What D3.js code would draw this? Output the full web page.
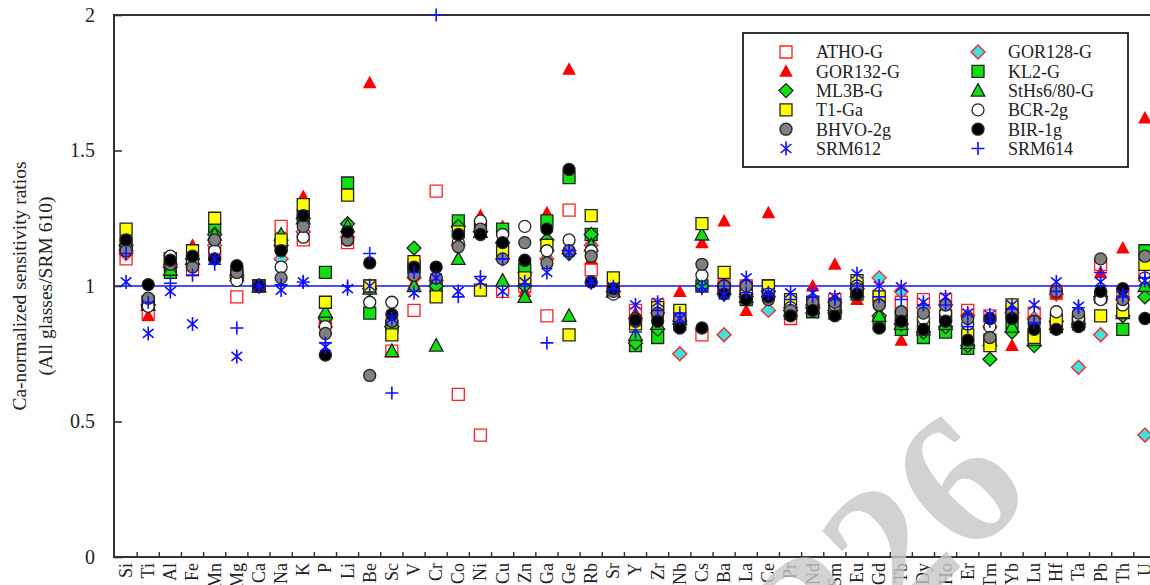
<!DOCTYPE html>
<html><head><meta charset="utf-8">
<script src="https://cdn.jsdelivr.net/npm/d3@7"></script>
<style>
body{margin:0;background:#fff}
svg{display:block}
text{font-family:"Liberation Serif","Times New Roman",serif;fill:#222}
</style>
</head><body>
<svg id="chart" width="1150" height="585"></svg>
<script>
// Elements on the x axis
const elements = ["Si","Ti","Al","Fe","Mn","Mg","Ca","Na","K","P","Li","Be","Sc","V","Cr","Co","Ni","Cu","Zn","Ga","Ge","Rb","Sr","Y","Zr","Nb","Cs","Ba","La","Ce","Pr","Nd","Sm","Eu","Gd","Tb","Dy","Ho","Er","Tm","Yb","Lu","Hf","Ta","Pb","Th","U"];

// Ca-normalized sensitivity ratios (glass / SRM 610), one value per element
const athoG   = [1.10,0.90,1.10,1.06,1.12,0.96,1.00,1.22,1.17,0.87,1.16,1.00,0.76,0.91,1.35,0.60,0.45,0.98,1.00,0.89,1.28,1.06,0.98,0.91,0.93,0.88,0.82,1.00,1.00,0.97,0.88,0.91,0.95,0.99,0.96,0.94,0.95,0.95,0.91,0.89,0.90,0.90,0.98,0.88,1.08,0.97,1.04];
const gor128G = [1.12,0.93,1.08,1.08,1.15,1.03,1.00,1.10,1.20,0.85,1.18,1.00,0.85,1.03,1.02,1.15,1.20,1.10,1.05,1.10,1.13,1.15,1.00,0.88,0.90,0.75,1.00,0.82,0.97,0.91,0.92,0.93,0.94,0.99,1.03,0.98,0.92,0.93,0.89,0.85,0.90,0.88,0.97,0.70,0.82,0.95,0.45];
const gor132G = [1.13,0.89,1.08,1.15,1.18,1.04,1.00,1.16,1.33,0.88,1.20,1.75,0.76,1.01,1.00,1.18,1.26,1.22,0.98,1.27,1.80,1.10,0.99,0.90,0.92,0.98,1.16,1.24,0.91,1.27,0.90,1.00,1.08,0.95,0.90,0.80,0.90,0.90,0.88,0.86,0.78,0.86,0.97,0.88,1.05,1.14,1.62];
const kl2G    = [1.16,0.94,1.05,1.09,1.21,1.04,1.00,1.15,1.26,1.05,1.38,0.90,0.85,1.07,1.00,1.24,1.22,1.21,1.06,1.24,1.40,1.19,0.98,0.78,0.81,0.86,1.00,0.99,0.95,1.00,0.90,0.905,0.90,0.97,0.86,0.84,0.81,0.83,0.77,0.80,0.86,0.82,0.85,0.86,0.96,0.84,1.13];
const ml3bG   = [1.15,0.93,1.07,1.10,1.19,1.04,1.00,1.15,1.25,0.88,1.23,0.99,0.85,1.14,1.00,1.22,1.20,1.16,1.00,1.17,1.12,1.19,0.98,0.79,0.84,0.87,1.00,1.00,0.96,0.98,0.91,0.92,0.91,0.99,0.89,0.86,0.83,0.85,0.78,0.73,0.83,0.78,0.87,0.86,0.96,0.89,0.96];
const sths680G= [1.15,0.93,1.06,1.10,1.19,1.04,1.00,1.19,1.25,0.905,1.22,0.99,0.76,1.00,0.78,1.10,1.20,1.02,0.96,1.15,0.89,1.15,0.98,0.82,0.86,0.88,1.19,0.99,0.96,0.98,0.91,0.92,0.92,0.98,0.89,0.86,0.84,0.86,0.79,0.80,0.85,0.80,0.86,0.87,0.97,0.90,1.00];
const t1Ga    = [1.21,0.94,1.10,1.13,1.25,1.05,1.00,1.17,1.30,0.94,1.335,1.00,0.82,1.09,0.96,1.20,0.985,1.13,1.03,1.15,0.82,1.26,1.03,0.86,0.92,0.91,1.23,1.05,0.99,1.00,0.95,0.94,0.93,1.02,0.96,0.89,0.86,0.89,0.82,0.78,0.93,0.81,0.875,0.87,0.89,0.905,1.08];
const bcr2g   = [1.14,0.925,1.11,1.09,1.13,1.02,1.00,1.07,1.18,0.85,1.17,0.94,0.94,1.06,1.03,1.16,1.24,1.19,1.22,1.13,1.17,1.13,0.97,0.88,0.89,0.87,1.04,1.00,0.98,0.97,0.92,0.93,0.93,1.00,0.93,0.90,0.88,0.90,0.86,0.85,0.89,0.86,0.905,0.88,0.95,0.93,1.03];
const bhvo2g  = [1.13,0.955,1.08,1.07,1.17,1.05,1.00,1.03,1.22,0.825,1.17,0.67,0.87,1.04,1.03,1.145,1.21,1.10,1.16,1.085,1.13,1.11,0.98,0.87,0.90,0.88,1.08,1.00,1.00,0.95,0.91,0.94,0.94,0.99,0.93,0.905,0.90,0.93,0.88,0.81,0.90,0.87,0.98,0.90,1.10,0.95,1.11];
const bir1g   = [1.17,1.005,1.095,1.11,1.10,1.075,1.00,1.13,1.26,0.745,1.20,1.085,0.895,1.07,1.07,1.19,1.19,1.16,1.095,1.21,1.43,1.015,0.99,0.875,0.87,0.845,0.845,0.97,0.95,0.96,0.89,0.91,0.89,0.97,0.845,0.87,0.84,0.87,0.80,0.88,0.88,0.84,0.84,0.85,0.98,0.99,0.88];
const srm612  = [1.015,0.825,0.98,0.86,1.10,0.74,1.00,0.985,1.015,0.775,0.99,1.00,0.88,0.975,1.03,0.98,1.015,0.98,1.015,1.05,1.125,1.015,0.997,0.93,0.94,0.88,0.997,0.967,1.03,0.975,0.975,0.975,0.96,1.045,1.00,0.997,0.94,0.96,0.90,0.893,0.93,0.93,1.015,0.925,1.015,0.97,1.02];
const srm614  = [1.12,0.94,1.01,1.04,1.08,0.845,1.00,1.004,1.015,0.79,1.00,1.12,0.605,1.05,2.00,0.96,1.035,1.10,1.00,0.79,1.13,1.01,0.99,0.83,0.91,0.90,0.99,1.00,0.975,0.97,0.95,0.96,0.95,1.00,0.96,0.95,0.93,0.93,0.85,0.87,0.915,0.865,0.98,0.92,1.05,0.96,1.03];

const yTicks = [0, 0.5, 1, 1.5, 2];
const watermark = "226";

// Series table: drawing order follows the legend
const series = [
  {name:"ATHO-G",      values:athoG,    shape:"square",   fill:"none",    stroke:"#ff2020"},
  {name:"GOR128-G",    values:gor128G,  shape:"diamond",  fill:"#3ee0e0", stroke:"#ff2020"},
  {name:"GOR132-G",    values:gor132G,  shape:"triangle", fill:"#ff0000", stroke:"none"},
  {name:"KL2-G",       values:kl2G,     shape:"square",   fill:"#10e010", stroke:"#222"},
  {name:"ML3B-G",      values:ml3bG,    shape:"diamond",  fill:"#10e010", stroke:"#222"},
  {name:"StHs6/80-G",  values:sths680G, shape:"triangle", fill:"#10e010", stroke:"#222"},
  {name:"T1-Ga",       values:t1Ga,     shape:"square",   fill:"#ffff00", stroke:"#222"},
  {name:"BCR-2g",      values:bcr2g,    shape:"circle",   fill:"#ffffff", stroke:"#222"},
  {name:"BHVO-2g",     values:bhvo2g,   shape:"circle",   fill:"#808080", stroke:"#222"},
  {name:"BIR-1g",      values:bir1g,    shape:"circle",   fill:"#000000", stroke:"#222"},
  {name:"SRM612",      values:srm612,   shape:"asterisk", fill:"none",    stroke:"#1010ff"},
  {name:"SRM614",      values:srm614,   shape:"plus",     fill:"none",    stroke:"#1010ff"}
];

const svg = d3.select("#chart");
const plotLeft = 114, plotTop = 15, plotBottom = 557, plotRight = 1170;

const x = d3.scaleBand().domain(elements).range([115, 1156]);
const xc = d => x(d) + x.bandwidth() / 2;
const y = d3.scaleLinear().domain([0, 2]).range([plotBottom, plotTop]);

// Marker path generators (centred on 0,0)
function markerPath(shape) {
  const p = d3.path();
  if (shape === "square") { p.rect(-6, -6, 12, 12); }
  else if (shape === "diamond") { p.moveTo(0,-7); p.lineTo(7,0); p.lineTo(0,7); p.lineTo(-7,0); p.closePath(); }
  else if (shape === "triangle") { p.moveTo(0,-7); p.lineTo(6.8,5.5); p.lineTo(-6.8,5.5); p.closePath(); }
  else if (shape === "circle") { p.arc(0, 0, 6, 0, 2*Math.PI); p.closePath(); }
  else if (shape === "asterisk") {
    p.moveTo(0,-7); p.lineTo(0,7);
    const a = 40 * Math.PI / 180, r = 7;
    p.moveTo(-r*Math.cos(a), -r*Math.sin(a)); p.lineTo(r*Math.cos(a), r*Math.sin(a));
    p.moveTo(-r*Math.cos(a), r*Math.sin(a)); p.lineTo(r*Math.cos(a), -r*Math.sin(a));
  }
  else if (shape === "plus") { p.moveTo(0,-6.5); p.lineTo(0,6.5); p.moveTo(-6.5,0); p.lineTo(6.5,0); }
  return p.toString();
}
function styleMarker(sel, s) {
  const lineShape = s.shape === "asterisk" || s.shape === "plus";
  sel.attr("d", markerPath(s.shape))
     .attr("fill", s.fill)
     .attr("stroke", s.stroke)
     .attr("stroke-width", lineShape ? 1.6 : 1.3);
}

// Reference line at ratio 1
svg.append("line")
  .attr("x1", plotLeft).attr("x2", plotRight)
  .attr("y1", y(1)).attr("y2", y(1))
  .attr("stroke", "#1010ff").attr("stroke-width", 1.4);

// Left axis with inward ticks
const yAxis = svg.append("g").attr("transform", `translate(${plotLeft},0)`)
  .call(d3.axisLeft(y).tickValues(yTicks).tickFormat(d3.format("")).tickSizeInner(-8).tickSizeOuter(0).tickPadding(19));
yAxis.select(".domain").remove();
yAxis.selectAll("line").attr("stroke", "#333").attr("stroke-width", 1.6);
yAxis.selectAll("text").attr("font-size", 20).attr("font-family", "Liberation Serif, serif").attr("fill", "#222");

// Bottom axis: element labels, rotated
const xAxis = svg.append("g").attr("transform", `translate(0,${plotBottom})`)
  .call(d3.axisBottom(x).tickSize(0));
xAxis.select(".domain").remove();
xAxis.selectAll("text")
  .attr("transform", "rotate(-90)")
  .attr("x", -6).attr("y", 0).attr("dy", "0.33em")
  .attr("text-anchor", "end")
  .attr("font-size", 18).attr("font-family", "Liberation Serif, serif").attr("fill", "#222");

// Inward ticks at the boundaries between elements
svg.append("g").selectAll("line").data(elements.slice(1)).join("line")
  .attr("x1", d => x(d)).attr("x2", d => x(d))
  .attr("y1", plotBottom).attr("y2", plotBottom - 5)
  .attr("stroke", "#333").attr("stroke-width", 1.4);

// Frame
svg.append("rect")
  .attr("x", plotLeft).attr("y", plotTop).attr("width", plotRight - plotLeft).attr("height", plotBottom - plotTop)
  .attr("fill", "none").attr("stroke", "#333").attr("stroke-width", 2);

// Y axis title
const yTitle = svg.append("g").attr("transform", `translate(0,${(plotTop + plotBottom) / 2})`);
yTitle.append("text").attr("transform", "translate(26,0) rotate(-90)")
  .attr("text-anchor", "middle").attr("font-size", 19.5).text("Ca-normalized sensitivity ratios");
yTitle.append("text").attr("transform", "translate(52,0) rotate(-90)")
  .attr("text-anchor", "middle").attr("font-size", 19.5).text("(All glasses/SRM 610)");

// Markers
series.forEach(s => {
  svg.append("g").selectAll("path").data(s.values).join("path")
    .attr("transform", (v, i) => `translate(${xc(elements[i])},${y(v)})`)
    .call(styleMarker, s);
});

// Legend
const lg = svg.append("g");
lg.append("rect").attr("x", 743).attr("y", 33).attr("width", 385).attr("height", 134)
  .attr("fill", "#fff").attr("stroke", "#333").attr("stroke-width", 2);
series.forEach((s, i) => {
  const col = i % 2, row = Math.floor(i / 2);
  const gx = col ? 978 : 786, gy = 52 + row * 19.3;
  lg.append("path").attr("transform", `translate(${gx},${gy})`).call(styleMarker, s);
  lg.append("text").attr("x", gx + 30).attr("y", gy).attr("dy", "0.35em")
    .attr("font-size", 18).text(s.name);
});

// Watermark
svg.append("text")
  .attr("transform", "translate(888,548) rotate(-44)")
  .attr("text-anchor", "middle").attr("dominant-baseline", "central")
  .attr("font-family", "Liberation Sans, Arial, sans-serif").attr("font-weight", "bold")
  .attr("font-size", 190).attr("opacity", 0.8)
  .style("fill", "#c8c8c8")
  .text(watermark);
</script>
</body></html>
